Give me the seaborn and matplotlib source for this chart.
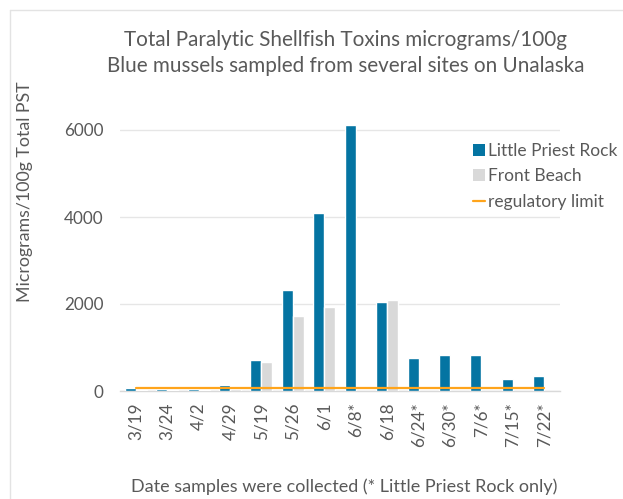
import numpy as np
import pandas as pd
import matplotlib
matplotlib.use("Agg")
import matplotlib.pyplot as plt
from matplotlib.lines import Line2D
import seaborn as sns

# Sampling dates (* = Little Priest Rock only)
dates = ["3/19", "3/24", "4/2", "4/29", "5/19", "5/26", "6/1", "6/8*",
         "6/18", "6/24*", "6/30*", "7/6*", "7/15*", "7/22*"]
little_priest_rock = [70, 50, 50, 145, 715, 2320, 4100, 6110,
                      2055, 760, 820, 825, 270, 345]
front_beach = [25, 25, 25, 50, 665, 1715, 1940, np.nan,
               2100, np.nan, np.nan, np.nan, np.nan, np.nan]
regulatory_limit = [80] * len(dates)
y_ticks = [0, 2000, 4000, 6000]

series_names = ["Little Priest Rock", "Front Beach"]
colors = {"Little Priest Rock": "#0474A2", "Front Beach": "#D9D9D9"}
limit_color = "#FFA41B"
text_color = "#595959"

df = pd.DataFrame({
    "date": dates * 2,
    "site": [series_names[0]] * len(dates) + [series_names[1]] * len(dates),
    "value": little_priest_rock + front_beach,
})
limit_df = pd.DataFrame({"date": dates, "limit": regulatory_limit})

sns.set_theme(style="white")
plt.rcParams["font.family"] = ["Lato", "DejaVu Sans"]

fig = plt.figure(figsize=(6.23, 4.99), dpi=100)
W, H = 623, 499
ax = fig.add_axes([120 / W, 1 - 391 / H, 440 / W, (391 - 86.5) / H])

sns.barplot(data=df, x="date", y="value", hue="site", order=dates,
            hue_order=series_names, palette=colors, width=0.7,
            saturation=1, dodge=True, ax=ax, legend=False)
sns.lineplot(data=limit_df, x="date", y="limit", color=limit_color,
             linewidth=1.6, ax=ax, legend=False)

ax.set_ylim(0, 7000)
ax.set_xlim(-0.5, len(dates) - 0.5)
ax.set_yticks(y_ticks)
ax.set_yticklabels([str(v) for v in y_ticks], fontsize=12.3, color=text_color)
ax.set_xticks(range(len(dates)))
ax.set_xticklabels(dates, rotation=90, fontsize=12.3, color=text_color)
ax.set_xticks(np.arange(-0.5, len(dates), 1.0), minor=True)
ax.tick_params(axis="x", which="major", length=0, pad=8)
ax.tick_params(axis="x", which="minor", length=4, width=0.8, color="#D9D9D9")
ax.tick_params(axis="y", length=0, pad=12)

ax.grid(axis="y", color="#E6E6E6", linewidth=1)
ax.set_axisbelow(True)
for side in ["top", "right", "left"]:
    ax.spines[side].set_visible(False)
ax.spines["bottom"].set_color("#D9D9D9")
ax.spines["bottom"].set_linewidth(1)
ax.spines["bottom"].set_zorder(0.5)

ax.set_xlabel("Date samples were collected (* Little Priest Rock only)",
              fontsize=13, color=text_color)
ax.xaxis.set_label_coords((344 - 120) / 440, -(478 - 391) / (391 - 86.5))
ax.set_ylabel("Micrograms/100g Total PST", fontsize=12.8, color=text_color)
ax.yaxis.set_label_coords(-(120 - 33) / 440, (391 - 192) / (391 - 86.5))

fig.text(346 / W, 1 - 40 / H, "Total Paralytic Shellfish Toxins micrograms/100g",
         ha="center", va="center", fontsize=14.9, color=text_color)
fig.text(346 / W, 1 - 66 / H, "Blue mussels sampled from several sites on Unalaska",
         ha="center", va="center", fontsize=14.9, color=text_color)

handles = [
    Line2D([], [], marker="s", linestyle="none", markersize=8,
           markerfacecolor=colors[series_names[0]], markeredgewidth=0),
    Line2D([], [], marker="s", linestyle="none", markersize=8,
           markerfacecolor=colors[series_names[1]], markeredgewidth=0),
    Line2D([], [], color=limit_color, linewidth=1.6),
]
fig.legend(handles, series_names + ["regulatory limit"],
           loc="upper left", bbox_to_anchor=(466 / W, 1 - 136 / H),
           frameon=False, fontsize=12.5, handlelength=0.7, handletextpad=0.15,
           labelspacing=0.55, labelcolor=text_color, borderaxespad=0)

# Faint chart border along the top and left edges
fig.add_artist(Line2D([10 / W, 1], [1 - 10 / H, 1 - 10 / H],
                      transform=fig.transFigure, color="#E3E3E3", linewidth=1))
fig.add_artist(Line2D([10 / W, 10 / W], [0, 1 - 10 / H],
                      transform=fig.transFigure, color="#E3E3E3", linewidth=1))

fig.savefig("out.png", dpi=100)
